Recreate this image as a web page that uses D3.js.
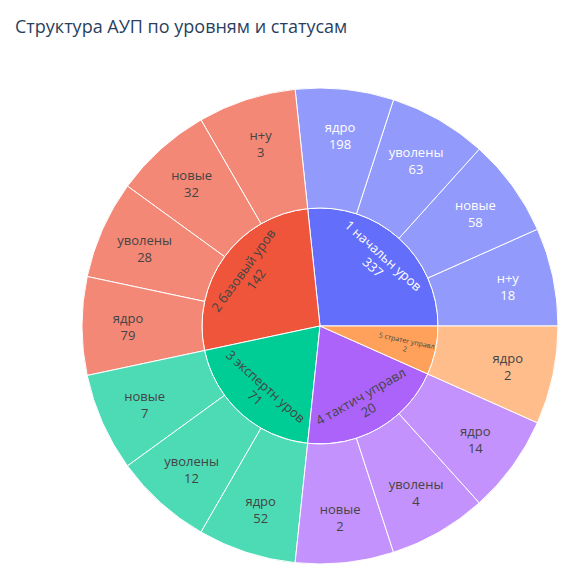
<!DOCTYPE html>
<html><head><meta charset="utf-8">
<script src="https://cdn.jsdelivr.net/npm/d3@7"></script>
<style>body{margin:0;background:#fff}</style></head>
<body><svg id="c" width="575" height="585"></svg>
<script>
const parents = ["1 начальн уров","2 базовый уров","3 экспертн уров","4 тактич управл","5 стратег управл"];
const parentValues = [337,142,71,20,2];
const parentColors = ["#636efa","#EF553B","#00cc96","#ab63fa","#FFA15A"];
const leafLabels = [["н+у","новые","уволены","ядро"],["н+у","новые","уволены","ядро"],["новые","уволены","ядро"],["новые","уволены","ядро"],["ядро"]];
const leafValues = [[18,58,63,198],[3,32,28,79],[7,12,52],[2,4,14],[2]];
const parentTextColors = ["#fff","#444","#444","#444","#444"];
const leafTextColors = ["#fff","#444","#444","#444","#444"];

const svg = d3.select("#c");
const cx=320, cy=326, r1=118, r2=238;
svg.append("text").attr("x",15).attr("y",33).attr("font-family","Open Sans, sans-serif").attr("font-size",18).attr("fill","#2a3f5f").text("Структура АУП по уровням и статусам");
const g = svg.append("g").attr("transform",`translate(${cx},${cy})`);
const nLeaves = d3.sum(leafLabels, d=>d.length);
// angle scale: leaf index -> angle, counterclockwise starting at 3 o'clock
const ang = d3.scaleLinear().domain([0,nLeaves]).range([Math.PI/2, Math.PI/2 - 2*Math.PI]);
const arc = d3.arc();
const light = c => d3.interpolateRgb(c,"#fff")(0.3);
const font="Open Sans, sans-serif";
let idx=0;
parents.forEach((p,i)=>{
  const n=leafLabels[i].length;
  const a0=ang(idx+n), a1=ang(idx);
  g.append("path").attr("d",arc({innerRadius:0,outerRadius:r1,startAngle:a0,endAngle:a1}))
   .attr("fill",parentColors[i]).attr("stroke","#fff").attr("stroke-width",1);
  const mid=(a0+a1)/2, deg=mid*180/Math.PI;
  const rr=88, x=rr*Math.sin(mid), y=-rr*Math.cos(mid);
  let rot, fs=13;
  if(n===1){rot=deg-90; fs=7;}
  else {rot=deg; let d=((rot%360)+360)%360; if(d>90&&d<270) rot-=180;}
  const t=g.append("text").attr("transform",`translate(${x},${y}) rotate(${rot})`)
    .attr("text-anchor","middle").attr("font-family",font).attr("font-size",fs).attr("fill",parentTextColors[i]);
  t.append("tspan").attr("x",0).attr("dy",-fs*0.15).text(p);
  t.append("tspan").attr("x",0).attr("dy",fs*1.2).text(parentValues[i]);
  leafLabels[i].forEach((l,j)=>{
    const b0=ang(idx+j+1), b1=ang(idx+j);
    g.append("path").attr("d",arc({innerRadius:r1,outerRadius:r2,startAngle:b0,endAngle:b1}))
     .attr("fill",light(parentColors[i])).attr("stroke","#fff").attr("stroke-width",1);
    const m=(b0+b1)/2, R=192, lx=R*Math.sin(m), ly=-R*Math.cos(m);
    const tt=g.append("text").attr("x",lx).attr("y",ly).attr("text-anchor","middle")
      .attr("font-family",font).attr("font-size",13).attr("fill",leafTextColors[i]);
    tt.append("tspan").attr("x",lx).attr("dy",-3).text(l);
    tt.append("tspan").attr("x",lx).attr("dy",17).text(leafValues[i][j]);
  });
  idx+=n;
});
</script></body></html>
